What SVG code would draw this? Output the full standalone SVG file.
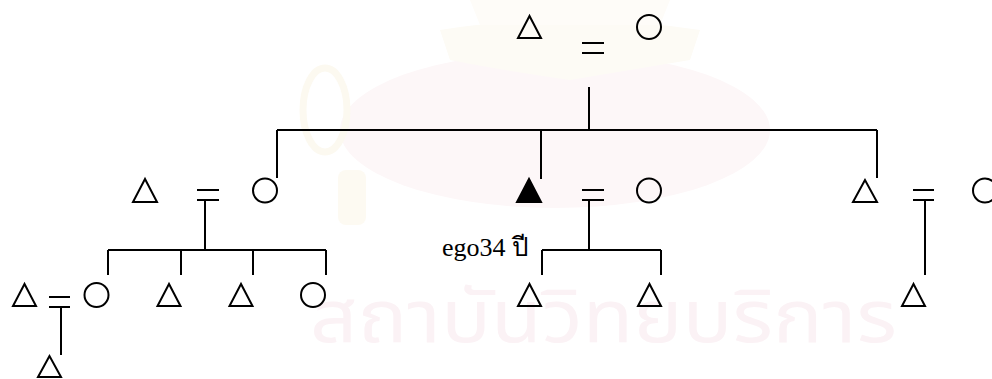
<svg xmlns="http://www.w3.org/2000/svg" width="992" height="379" viewBox="0 0 992 379">
<style>
.s{fill:none;stroke:#000;stroke-width:2}
.f{fill:#000;stroke:#000;stroke-width:2;stroke-linejoin:miter}
.l{stroke:#000;stroke-width:2;fill:none}
.lbl{font-family:"Liberation Serif","Times New Roman",serif;font-size:26px;fill:#000}
.wm{font-family:"Noto Sans Thai","Loma","Garuda","Noto Sans",sans-serif;font-size:74px;fill:#fbf2f5}
</style>
<rect width="992" height="379" fill="#fff"/>
<g id="watermark">
<ellipse cx="555" cy="130" rx="215" ry="78" fill="#fdf7f8"/>
<path d="M440 30 Q500 20 570 22 Q640 20 700 30 L690 60 Q630 70 570 80 Q500 70 450 60 Z" fill="#fdfbf5"/>
<path d="M470 0 L670 0 L660 25 L480 25 Z" fill="#fefcf8"/>
<ellipse cx="325" cy="110" rx="22" ry="42" fill="none" stroke="#fcf9f0" stroke-width="7"/>
<rect x="338" y="170" width="28" height="55" rx="8" fill="#fdfaf2"/>
<text class="wm" x="310" y="342" textLength="587" lengthAdjust="spacingAndGlyphs">สถาบันวิทยบริการ</text>
</g>
<g id="connectors">
<path class="l" d="M582 43H604M582 53H604M589 87V130"/>
<path class="l" d="M277 130H877M277 130V178M541 130V179M877 130V178"/>
<path class="l" d="M197 190H219M197 200H219M205 200V250M108 250H326M108 250V275M181 250V275M253 250V275M326 250V275"/>
<path class="l" d="M582 190H604M582 200H604M589 200V250M542 250H661M542 250V275M661 250V275"/>
<path class="l" d="M913 190H934M913 200H934M925 200V275"/>
<path class="l" d="M49 297H70M49 307H70M61 307V355"/>
</g>
<g id="g1_father"><path class="s" d="M529.5 16L518 38H541Z"/></g>
<g id="g1_mother"><circle class="s" cx="649" cy="27" r="12"/></g>
<g id="aunt_husband"><path class="s" d="M145 179L133 202H157Z"/></g>
<g id="aunt"><circle class="s" cx="265" cy="190.5" r="12"/></g>
<g id="ego"><path class="f" d="M529 179L517 202H541Z"/>
<text class="lbl" x="442" y="256">ego34 ปี</text></g>
<g id="ego_wife"><circle class="s" cx="649" cy="190.5" r="12"/></g>
<g id="uncle"><path class="s" d="M865 180L853 202H877Z"/></g>
<g id="uncle_wife"><circle class="s" cx="985" cy="190.5" r="12"/></g>
<g id="c1"><circle class="s" cx="96.5" cy="295" r="12"/></g>
<g id="c1_husband"><path class="s" d="M24.5 284L13 306H36Z"/></g>
<g id="c1_child"><path class="s" d="M49.5 356L38 377H61Z"/></g>
<g id="c2"><path class="s" d="M169 284L157.5 306H180.5Z"/></g>
<g id="c3"><path class="s" d="M241 284L229.5 306H252.5Z"/></g>
<g id="c4"><circle class="s" cx="313" cy="295" r="12"/></g>
<g id="ego_son1"><path class="s" d="M529.5 284L518 306H541Z"/></g>
<g id="ego_son2"><path class="s" d="M649.5 284L638 306H661Z"/></g>
<g id="cousin"><path class="s" d="M913.5 284L902 306H925Z"/></g>
</svg>
